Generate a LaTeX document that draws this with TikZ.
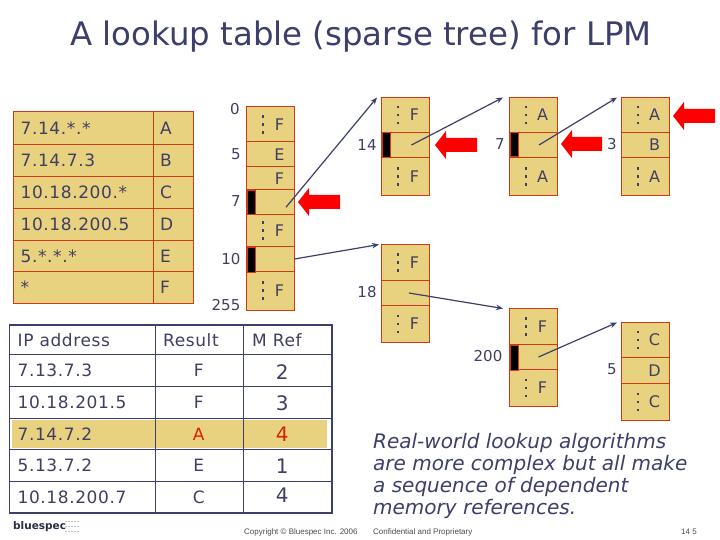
\documentclass[tikz,border=0pt]{standalone}
\usepackage{fontspec}
\setmainfont{DejaVu Sans}
\newfontfamily\arialf{Liberation Sans}
\newfontfamily\widef[LetterSpace=3.5]{DejaVu Sans}
\usetikzlibrary{arrows.meta,calc}
\definecolor{ink}{HTML}{3E3F63}
\definecolor{cellfill}{HTML}{E8D280}
\definecolor{cellline}{HTML}{D03818}
\definecolor{tline}{HTML}{3C3F6B}
\definecolor{hotink}{HTML}{D8200A}
\tikzset{
 x=1pt,y=-1pt,
 cell/.style={draw=cellline,line width=1pt,fill=cellfill,inner sep=0pt,outer sep=0pt,anchor=north west},
 tcell/.style={draw=tline,line width=0.9pt,inner sep=0pt,outer sep=0pt,anchor=north west},
 lab/.style={font=\fontsize{15}{15}\selectfont,text=ink,inner sep=0pt},
 clab/.style={font=\fontsize{16}{16}\selectfont,text=ink,inner sep=0pt},
 llab/.style={font=\widef\fontsize{17}{17}\selectfont,text=ink,inner sep=0pt,anchor=west},
 blk/.style={fill=black,draw=cellline,line width=0.4pt,inner sep=0pt,anchor=north west,minimum width=8pt},
 ptr/.style={draw=tline,line width=1.2pt,-{Stealth[length=7pt,width=5.5pt]}},
 dotm/.style={fill=ink,inner sep=0pt,minimum size=2.6pt},
 hot/.style={fill=red,draw=none},
}
\newcommand{\cellbox}[5]{\node[cell,minimum width=#4pt-#2pt,minimum height=#5pt-#3pt] (#1) at (#2,#3) {};}
\newcommand{\tcellbox}[5]{\node[tcell,minimum width=#4pt-#2pt,minimum height=#5pt-#3pt] (#1) at (#2,#3) {};}
\newcommand{\dotted}[3]{%
 \node[dotm] (#1d1) at ([xshift=-7.5pt,yshift=-8pt]#1.center) {};
 \node[dotm] (#1d2) at ([xshift=-7.5pt]#1.center) {};
 \node[dotm] (#1d3) at ([xshift=-7.5pt,yshift=8pt]#1.center) {};
 \node[clab] (#1t) at ([xshift=9pt]#1.center) {#2};}
\newcommand{\plain}[2]{\node[clab] (#1t) at ([xshift=9pt]#1.center) {#2};}
\newcommand{\redarrow}[3]{\fill[hot] (#1,#2) -- (#1+11,#2-14) -- (#1+11,#2-7) -- (#3,#2-7) -- (#3,#2+7) -- (#1+11,#2+7) -- (#1+11,#2+14) -- cycle;}
\begin{document}
\begin{tikzpicture}
\useasboundingbox (0,0) rectangle (720,540);
\fill[white] (0,0) rectangle (720,540);
\node[font=\fontsize{32.4}{32.4}\selectfont,text=tline,inner sep=0pt] (title) at (361,36.5) {A lookup table (sparse tree) for LPM};
% prefix table
\foreach \n/\a/\b/\p/\r in {1/112/144.5/7.14.*.*/A,2/144.5/176.5/7.14.7.3/B,3/176.5/208.5/10.18.200.*/C,4/208.5/240.5/10.18.200.5/D,5/240.5/271.5/5.*.*.*/E,6/271.5/303/*/F}{
 \cellbox{pa\n}{13.5}{\a}{153}{\b}
 \cellbox{pb\n}{153}{\a}{193}{\b}
 \node[llab] (pat\n) at ([xshift=7pt]pa\n.west) {\p};
 \node[llab] (pbt\n) at ([xshift=7pt]pb\n.west) {\r};
}
% root tree
\cellbox{ra}{246.5}{106.5}{294.5}{142}
\cellbox{rb}{246.5}{142}{294.5}{167}
\cellbox{rc}{246.5}{167}{294.5}{190}
\cellbox{rd}{246.5}{190}{294.5}{214.5}
\cellbox{re}{246.5}{214.5}{294.5}{246.5}
\cellbox{rf}{246.5}{246.5}{294.5}{271.5}
\cellbox{rg}{246.5}{271.5}{294.5}{310}
\dotted{ra}{F}{}\plain{rb}{E}\plain{rc}{F}\dotted{re}{F}{}\dotted{rg}{F}{}
\node[blk,minimum height=24.5pt] (rdb) at (246.5,190) {};
\node[blk,minimum height=25pt] (rfb) at (246.5,246.5) {};
\node[lab] (l0) at (235,109) {0};
\node[lab] (l5) at (236,154) {5};
\node[lab] (l7) at (236,201) {7};
\node[lab] (l10) at (231,259) {10};
\node[lab] (l255) at (226,305) {255};
% tree 14
\cellbox{aa}{381.5}{97.5}{429.5}{132.5}
\cellbox{ab}{381.5}{132.5}{429.5}{157.5}
\cellbox{ac}{381.5}{157.5}{429.5}{195.5}
\dotted{aa}{F}{}\dotted{ac}{F}{}
\node[blk,minimum height=25pt] (abb) at (381.5,132.5) {};
\node[lab] (l14) at (367,145) {14};
% tree 7
\cellbox{ba}{509.5}{97.5}{557.5}{132.5}
\cellbox{bb}{509.5}{132.5}{557.5}{157.5}
\cellbox{bc}{509.5}{157.5}{557.5}{195.5}
\dotted{ba}{A}{}\dotted{bc}{A}{}
\node[blk,minimum height=24pt] (bbb) at (509.5,132.5) {};
\node[lab] (l7b) at (500,144) {7};
% tree 3
\cellbox{ca}{621.5}{97.5}{669.5}{132.5}
\cellbox{cb}{621.5}{132.5}{669.5}{157.5}
\cellbox{cc}{621.5}{157.5}{669.5}{195.5}
\dotted{ca}{A}{}\plain{cb}{B}\dotted{cc}{A}{}
\node[lab] (l3) at (612,144) {3};
% tree 18
\cellbox{da}{381.5}{244.5}{429.5}{280.5}
\cellbox{db}{381.5}{280.5}{429.5}{305.5}
\cellbox{dc}{381.5}{305.5}{429.5}{342.5}
\dotted{da}{F}{}\dotted{dc}{F}{}
\node[lab] (l18) at (367,292) {18};
% tree 200
\cellbox{ea}{509.5}{308.5}{557.5}{344.5}
\cellbox{eb}{509.5}{344.5}{557.5}{369.5}
\cellbox{ec}{509.5}{369.5}{557.5}{406.5}
\dotted{ea}{F}{}\dotted{ec}{F}{}
\node[blk,minimum height=25pt] (ebb) at (509.5,344.5) {};
\node[lab] (l200) at (488,356) {200};
% tree 5
\cellbox{fa}{621.5}{322.5}{669.5}{357.5}
\cellbox{fb}{621.5}{357.5}{669.5}{383.5}
\cellbox{fc}{621.5}{383.5}{669.5}{420.5}
\dotted{fa}{C}{}\plain{fb}{D}\dotted{fc}{C}{}
\node[lab] (l5b) at (612,369) {5};
% pointers
\draw[ptr] ([xshift=15.5pt,yshift=-5pt]rd.center) -- ([xshift=-4.5pt]aa.north west);
\draw[ptr] (rf.east) -- ([xshift=-2.5pt]da.north west);
\draw[ptr] ([xshift=6pt]ab.center) -- ([xshift=-6.5pt]ba.north west);
\draw[ptr] ([xshift=5.5pt]bb.center) -- ([xshift=-4.5pt]ca.north west);
\draw[ptr] ([xshift=3.5pt]db.center) -- ([xshift=-6.5pt]ea.north west);
\draw[ptr] ([xshift=5pt]eb.center) -- ([xshift=-4.5pt]fa.north west);
% red arrows
\redarrow{298}{202}{340}
\redarrow{435}{145}{477}
\redarrow{561}{144}{602}
\redarrow{673}{116}{715}
% results table
\foreach \n/\a/\b in {0/325/354.5,1/354.5/386,2/386/418.5,3/418.5/449.5,4/449.5/481.5,5/481.5/513}{
 \tcellbox{qa\n}{9.5}{\a}{155}{\b}
 \tcellbox{qb\n}{155}{\a}{243.5}{\b}
 \tcellbox{qc\n}{243.5}{\a}{332}{\b}
}
\fill[cellfill] (11.5,419.5) rectangle (154.5,448);
\fill[cellfill] (155.5,419.5) rectangle (243,448);
\fill[cellfill] (244,419.5) rectangle (327,448);
\foreach \n/\p in {0/IP address,1/7.13.7.3,2/10.18.201.5,3/7.14.7.2,4/5.13.7.2,5/10.18.200.7}{
 \node[llab] (qat\n) at ([xshift=8pt]qa\n.west) {\p};
}
\draw[tline,line width=1.6pt] (qa0.north west) -- (qc0.north east) -- (qc5.south east) -- (qa5.south west) -- cycle;
\node[llab] (qbt0) at ([xshift=8pt]qb0.west) {Result};
\node[llab] (qct0) at ([xshift=8.5pt]qc0.west) {M Ref};
\foreach \n/\r/\m/\c/\dy in {1/F/2/ink/-2,2/F/3/ink/-1,3/A/4/hotink/0,4/E/1/ink/-0.5,5/C/4/ink/2}{
 \node[llab,anchor=center,text=\c] (qbt\n) at ([xshift=-0.5pt]qb\n.center) {\r};
 \node[lab,text=\c,font=\fontsize{20}{20}\selectfont] (qct\n) at ([xshift=-5.5pt,yshift=\dy pt]qc\n.center) {\m};
}
% note
\node[anchor=north west,inner sep=0pt,align=left,text=tline,font=\fontsize{20}{22}\selectfont\itshape] (note) at (373,433) {Real-world lookup algorithms\\are more complex but all make\\a sequence of dependent\\memory references.};
% footer
\node[inner sep=0pt,anchor=west,font=\fontsize{10.5}{10.5}\selectfont\bfseries,text=ink!70!black] (logo) at (13,527) {bluespec};
\foreach \yy in {521,526,531}{\draw[black!25,line width=1pt,dash pattern=on 1.5pt off 1.5pt] (65,\yy) -- (79,\yy);}
\node[inner sep=0pt,anchor=west,font=\arialf\fontsize{8}{8}\selectfont,text=black!70] (copy) at (244,532) {Copyright © Bluespec Inc. 2006};
\node[inner sep=0pt,anchor=west,font=\arialf\fontsize{8}{8}\selectfont,text=black!70] (conf) at (373,532) {Confidential and Proprietary};
\node[inner sep=0pt,anchor=east,font=\arialf\fontsize{8}{8}\selectfont,text=black!70] (pg) at (697,532) {14 5};
\end{tikzpicture}
\end{document}
